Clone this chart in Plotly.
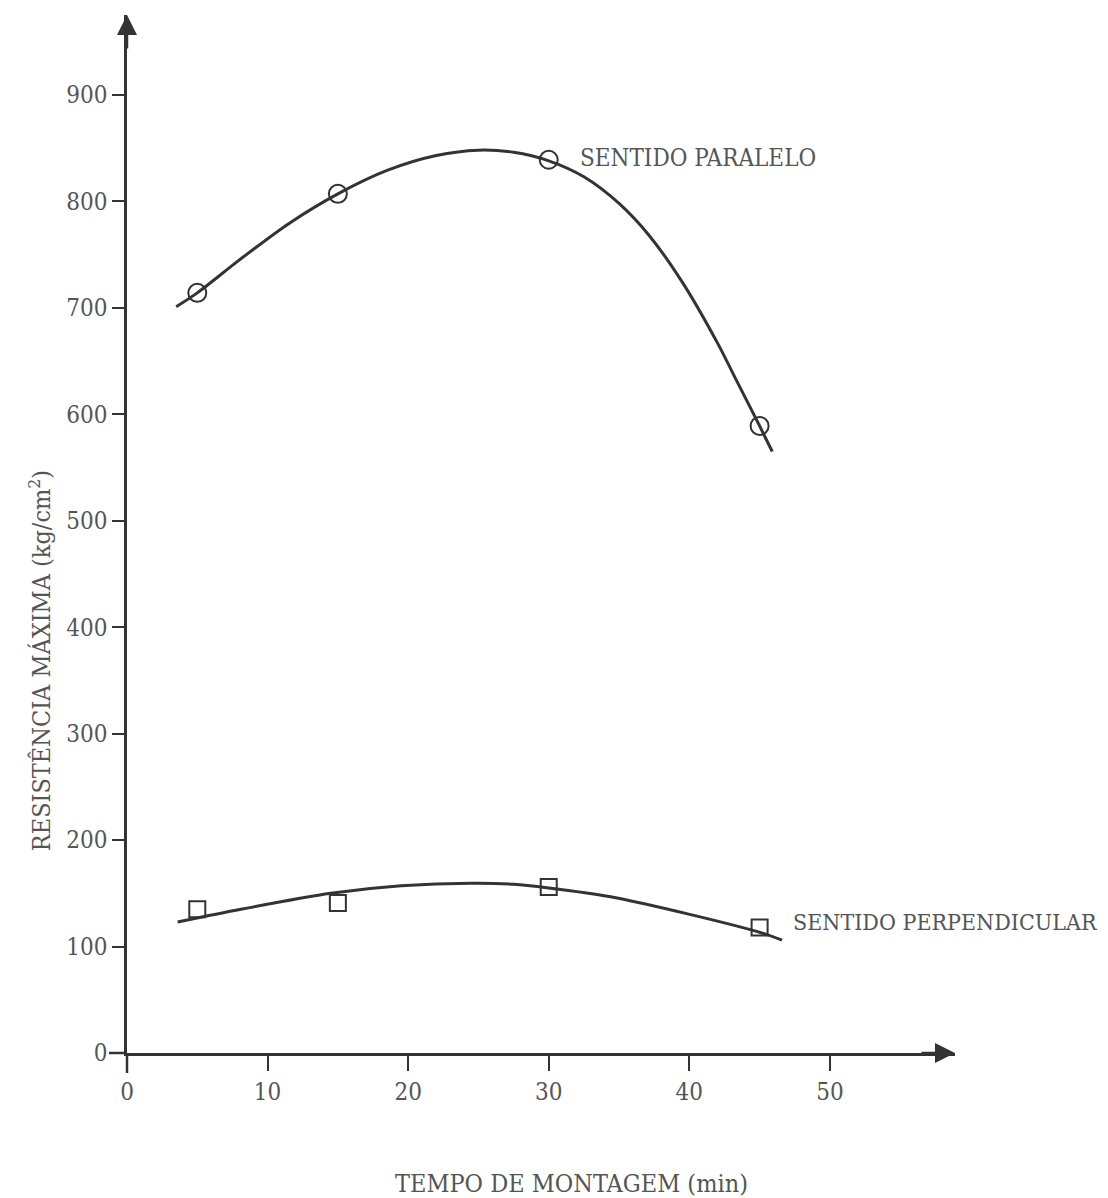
import plotly.graph_objects as go

# ---- data ----
tempo = [5, 15, 30, 45]
paralelo = [714, 807, 839, 589]
perpendicular = [135, 141, 156, 118]

curva_par_x = [3.5, 5, 8, 11.5, 15, 18.5, 22, 25, 27.5, 30, 32.5, 35, 37.2, 39.6, 42, 43.5, 45, 45.9]
curva_par_y = [701, 714, 745, 779, 807, 829, 843, 848, 846, 838, 823, 798, 767, 722, 667, 628, 589, 565]

curva_perp_x = [3.6, 8.1, 14.5, 19.5, 24.5, 27.5, 30, 34.3, 40.1, 45.1, 46.6]
curva_perp_y = [123, 135, 150, 157, 159.5, 158.5, 155, 147, 130, 113, 106]

x_ticks = [0, 10, 20, 30, 40, 50]
y_ticks = [0, 100, 200, 300, 400, 500, 600, 700, 800, 900]

label_par = "SENTIDO PARALELO"
label_perp = "SENTIDO PERPENDICULAR"
x_title = "TEMPO DE MONTAGEM (min)"
y_title = "RESISTÊNCIA MÁXIMA (kg/cm<sup>2</sup>)"

FONT = "DejaVu Serif Condensed, Liberation Serif, serif"
INK = "#333333"
TXT = "#555555"

# page body adds an 8px offset; compensate
W, H = 1100, 1190
ML, MR, MT, MB = 119, 153, 7, 145
PW = W - ML - MR
PH = H - MT - MB

fig = go.Figure()

fig.add_trace(go.Scatter(x=curva_par_x, y=curva_par_y, mode="lines",
                         line=dict(color=INK, width=3, shape="spline", smoothing=0.8),
                         hoverinfo="skip", showlegend=False))
fig.add_trace(go.Scatter(x=curva_perp_x, y=curva_perp_y, mode="lines",
                         line=dict(color=INK, width=3, shape="spline", smoothing=0.8),
                         hoverinfo="skip", showlegend=False))
fig.add_trace(go.Scatter(x=tempo, y=paralelo, mode="markers",
                         marker=dict(symbol="circle-open", size=18, color=INK,
                                     line=dict(width=2, color=INK)),
                         name=label_par, showlegend=False))
fig.add_trace(go.Scatter(x=tempo, y=perpendicular, mode="markers",
                         marker=dict(symbol="square-open", size=16, color=INK,
                                     line=dict(width=2, color=INK)),
                         name=label_perp, showlegend=False))

fig.update_layout(
    width=W, height=H,
    margin=dict(l=ML, r=MR, t=MT, b=MB),
    paper_bgcolor="white", plot_bgcolor="white",
    font=dict(family=FONT, size=22, color=TXT),
    xaxis=dict(range=[0, 58.9], tickvals=x_ticks, showgrid=False, zeroline=False,
               showline=True, linecolor=INK, linewidth=2.5,
               ticks="outside", ticklen=15, tickwidth=2, tickcolor=INK,
               tickfont=dict(family=FONT, size=24, color=TXT)),
    yaxis=dict(range=[0, 975], tickvals=y_ticks, showgrid=False, zeroline=False,
               showline=True, linecolor=INK, linewidth=2.5,
               ticks="outside", ticklen=12, tickwidth=2, tickcolor=INK,
               tickfont=dict(family=FONT, size=24, color=TXT)),
    showlegend=False,
)

# axis extensions beyond the origin
fig.add_shape(type="line", xref="paper", yref="paper", x0=0, x1=0,
              y0=-20 / PH, y1=0, line=dict(color=INK, width=2.5))
fig.add_shape(type="line", xref="paper", yref="paper", x0=-18 / PW, x1=0,
              y0=0, y1=0, line=dict(color=INK, width=2.5))

# arrows at axis ends
fig.add_annotation(xref="paper", yref="paper", x=0, y=1, ax=0, ay=35,
                   text="", showarrow=True, arrowhead=2, arrowsize=1.6,
                   arrowwidth=2.5, arrowcolor=INK, standoff=0)
fig.add_annotation(xref="paper", yref="paper", x=1, y=0, ax=-35, ay=0,
                   text="", showarrow=True, arrowhead=2, arrowsize=1.6,
                   arrowwidth=2.5, arrowcolor=INK, standoff=0)

# series labels
fig.add_annotation(x=32.1, y=841, xref="x", yref="y", text=label_par,
                   showarrow=False, xanchor="left", yanchor="middle",
                   font=dict(family=FONT, size=24, color=TXT))
fig.add_annotation(x=47.2, y=123, xref="x", yref="y", text=label_perp,
                   showarrow=False, xanchor="left", yanchor="middle",
                   font=dict(family=FONT, size=23, color=TXT))

# axis titles
fig.add_annotation(xref="paper", yref="y", x=(32 - ML) / PW, y=368,
                   text=y_title, textangle=-90, showarrow=False,
                   xanchor="center", yanchor="middle",
                   font=dict(family=FONT, size=25, color=TXT))
fig.add_annotation(xref="x", yref="paper", x=31.65, y=-130 / PH,
                   text=x_title, showarrow=False,
                   xanchor="center", yanchor="middle",
                   font=dict(family=FONT, size=25, color=TXT))

fig.write_html("out.html")
